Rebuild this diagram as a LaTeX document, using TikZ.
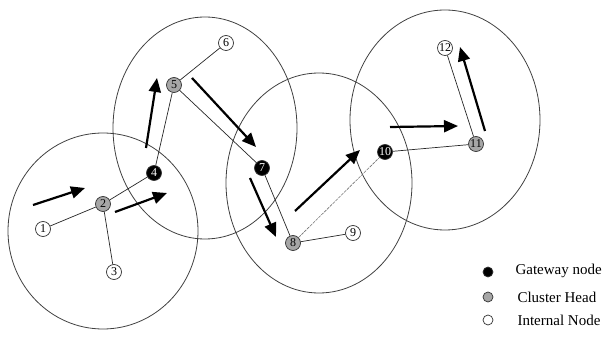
\documentclass[tikz,border=0pt]{standalone}
\usepackage{fontspec}
\setmainfont{Liberation Serif}
\usetikzlibrary{arrows.meta,positioning}

\begin{document}
\begin{tikzpicture}[x=1pt,y=-1pt,
    zone/.style={draw=black!75,line width=0.8pt},
    sensor/.style={circle,draw=black!80,line width=0.7pt,minimum size=15pt,inner sep=0pt,font=\fontsize{12}{12}\selectfont},
    gateway/.style={sensor,fill=black,text=white},
    head/.style={sensor,fill=black!35},
    internal/.style={sensor,fill=white},
    link/.style={draw=black!85,line width=0.7pt},
    weak/.style={draw=black!55,line width=0.6pt,dash pattern=on 3pt off 1pt},
    flow/.style={line width=2.2pt,-{Triangle[length=14pt,width=12pt]}},
    key/.style={circle,draw=black!80,line width=0.7pt,minimum size=10pt,inner sep=0pt},
    keytext/.style={anchor=west,font=\fontsize{15}{17}\selectfont}]
    \useasboundingbox (0,0) rectangle (605,355);

    % clusters
    \draw[zone] (103,231) ellipse [x radius=95,y radius=98];
    \draw[zone] (205,128) ellipse [x radius=92,y radius=111];
    \draw[zone] (319,183) ellipse [x radius=93,y radius=110];
    \draw[zone] (445,120) ellipse [x radius=95,y radius=110];

    % sensors
    \node[internal] (n1) at (43,229) {1};
    \node[head] (n2) at (103,204) {2};
    \node[internal] (n3) at (114,272) {3};
    \node[gateway] (n4) at (154,173) {4};
    \node[head] (n5) at (174,85) {5};
    \node[internal] (n6) at (226,43) {6};
    \node[gateway] (n7) at (262,168) {7};
    \node[head] (n8) at (293,243) {8};
    \node[internal] (n9) at (353,233) {9};
    \node[gateway] (n10) at (385,152) {10};
    \node[head] (n11) at (476,144) {11};
    \node[internal] (n12) at (445,48) {12};

    \draw[link] (n1) -- (n2) -- (n4) -- (n5) -- (n6);
    \draw[link] (n2) -- (n3);
    \draw[link] (n5) -- (n7) -- (n8) -- (n9);
    \draw[weak] (n8) -- (n10);
    \draw[link] (n10) -- (n11) -- (n12);

    % data flow
    \coordinate (f1s) at (33,205);  \coordinate (f1e) at (85,188);
    \coordinate (f2s) at (115,212); \coordinate (f2e) at (167,193);
    \coordinate (f3s) at (146,148); \coordinate (f3e) at (157,78);
    \coordinate (f4s) at (192,78);  \coordinate (f4e) at (256,147);
    \coordinate (f5s) at (250,178); \coordinate (f5e) at (276,237);
    \coordinate (f6s) at (295,211); \coordinate (f6e) at (360,150);
    \coordinate (f7s) at (390,127); \coordinate (f7e) at (458,126);
    \coordinate (f8s) at (485,131); \coordinate (f8e) at (460,47);
    \foreach \f in {1,...,8}
        \draw[flow] (f\f s) -- (f\f e);

    % legend
    \node[key,fill=black] (kgate) at (488,272) {};
    \node[key,fill=black!35] (khead) at (488,297) {};
    \node[key,fill=white] (kint) at (488,320) {};
    \node[keytext] at (512,271) {Gateway node};
    \node[keytext] at (514,297) {Cluster Head};
    \node[keytext] at (514,320) {Internal Node};
\end{tikzpicture}
\end{document}
